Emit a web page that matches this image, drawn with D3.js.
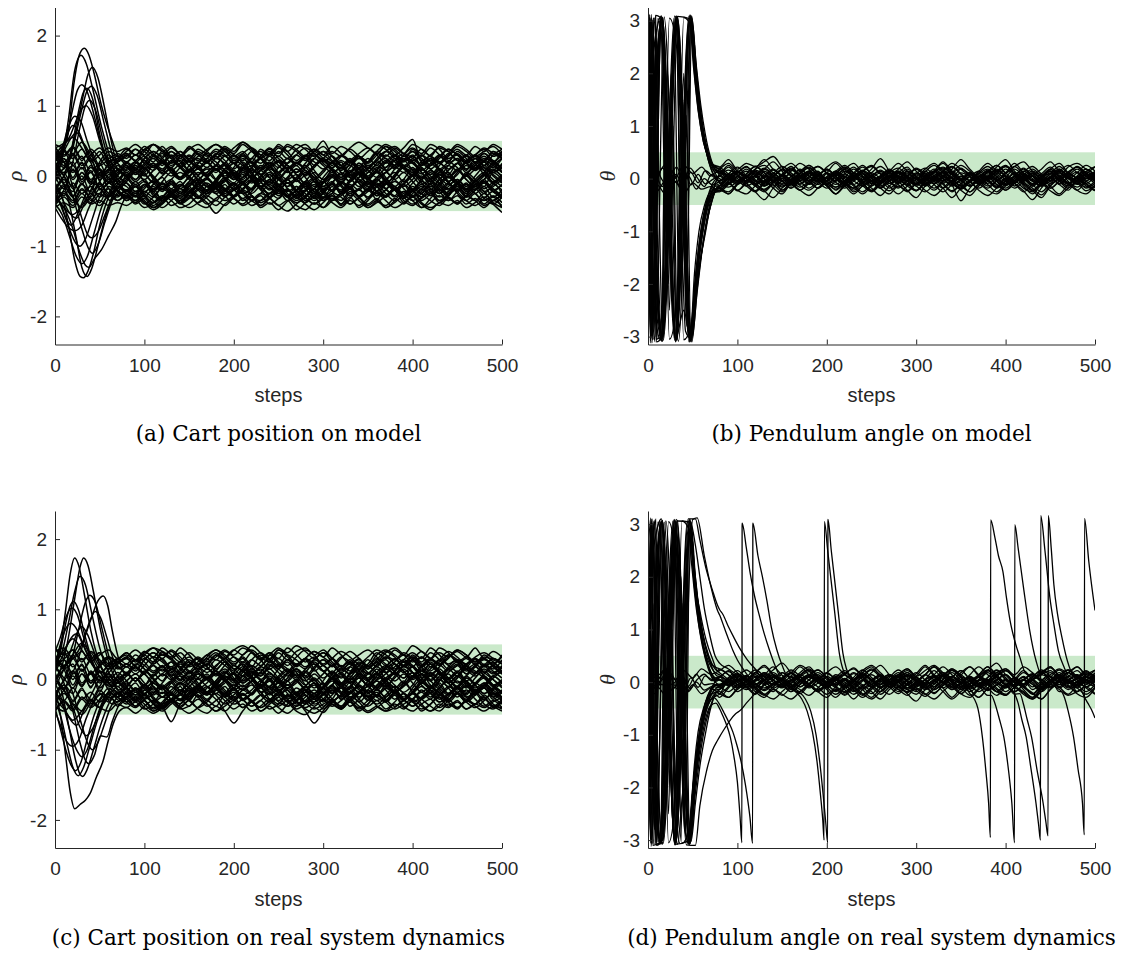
<!DOCTYPE html>
<head>
  <meta charset="utf-8">
  <style>
    body { margin: 0; background: #fff; }
    svg { display: block; }
  </style>
  <script src="https://cdn.jsdelivr.net/npm/d3@7"></script>
</head>
<body>
<svg id=fig width="1121" height="954"></svg>
<script>
// values are in hundredths (rho in units, theta in rad); heads are [step, value] key points,
// tails are sampled every 10 steps from step 80 to 500
const tailStart = 80, tailStep = 10
const xTicks = [0, 100, 200, 300, 400, 500]
const rhoTicks = [-2, -1, 0, 1, 2]
const thetaTicks = [-3, -2, -1, 0, 1, 2, 3]
const bandHalf = 0.5
const captions = ['(a) Cart position on model', '(b) Pendulum angle on model',
  '(c) Cart position on real system dynamics', '(d) Pendulum angle on real system dynamics']
const yLabels = ['ρ', 'θ', 'ρ', 'θ']

// (a) cart position, model
const rhoModelHeads = [
  [[0,20],[8,35],[15,62],[21,130],[28,175],[33,182],[38,172],[43,150],[52,100],[62,58],[70,30]],
  [[0,-10],[8,25],[15,80],[22,150],[29,172],[35,160],[42,125],[52,70],[62,25],[70,-5]],
  [[0,5],[10,10],[20,45],[30,105],[37,145],[42,155],[48,140],[55,100],[62,55],[70,20]],
  [[0,30],[10,40],[18,85],[25,122],[30,130],[36,120],[44,85],[52,45],[60,15],[70,-10]],
  [[0,-20],[10,0],[20,40],[30,95],[36,122],[41,128],[47,115],[55,75],[63,35],[70,10]],
  [[0,10],[10,5],[18,35],[26,90],[32,120],[36,125],[42,110],[50,60],[58,20],[66,-5],[70,-10]],
  [[0,-35],[10,-20],[20,20],[28,70],[34,100],[39,108],[45,95],[53,55],[62,15],[70,-5]],
  [[0,40],[8,45],[16,55],[24,80],[30,96],[35,100],[42,85],[50,50],[60,20],[70,5]],
  [[0,25],[8,40],[15,70],[22,85],[28,80],[36,50],[45,20],[55,5],[65,15],[70,20]],
  [[0,-5],[7,30],[14,60],[20,72],[27,62],[35,35],[45,5],[55,-15],[65,0],[70,10]],
  [[0,-10],[8,-30],[15,-70],[22,-120],[28,-143],[32,-145],[37,-135],[43,-110],[50,-70],[60,-30],[70,-10]],
  [[0,15],[8,-5],[16,-40],[24,-90],[30,-130],[36,-143],[41,-132],[48,-100],[56,-60],[64,-30],[70,-15]],
  [[0,-30],[10,-45],[20,-75],[28,-110],[34,-127],[38,-130],[44,-118],[52,-105],[60,-85],[68,-65],[75,-40]],
  [[0,-40],[8,-55],[16,-85],[24,-115],[30,-125],[36,-115],[44,-80],[52,-45],[62,-20],[70,0]],
  [[0,20],[10,0],[20,-30],[30,-75],[37,-102],[42,-110],[48,-98],[56,-65],[64,-35],[72,-20]],
  [[0,-25],[8,-45],[16,-75],[23,-95],[28,-100],[34,-90],[42,-60],[50,-30],[60,-10],[70,-20]],
  [[0,35],[10,20],[20,-15],[30,-60],[36,-82],[41,-88],[48,-80],[56,-55],[64,-30],[72,-15]],
  [[0,-45],[7,-60],[14,-72],[22,-78],[30,-70],[38,-45],[48,-25],[58,-30],[68,-20],[75,-10]],
  [[0,-15],[6,-40],[12,-60],[18,-70],[25,-55],[33,-30],[42,-10],[52,-20],[62,-35],[72,-25]],
  [[0,40],[10,30],[20,42],[30,25],[40,35],[50,15],[60,22],[70,10]],
  [[0,-40],[10,-25],[20,-38],[30,-20],[40,-30],[50,-12],[60,-25],[70,-30]],
  [[0,5],[10,-10],[20,8],[30,-5],[40,15],[50,0],[60,18],[70,25]],
  [[0,28],[10,12],[20,20],[30,-8],[40,5],[50,-15],[60,-5],[70,-20]],
  [[0,-28],[10,-12],[20,-22],[30,5],[40,-8],[50,10],[60,-2],[70,15]],
  [[0,45],[10,38],[20,25],[30,38],[40,20],[50,30],[60,40],[70,35]],
  [[0,-45],[10,-38],[20,-45],[30,-30],[40,-40],[50,-35],[60,-42],[70,-38]],
  [[0,15],[10,25],[20,5],[30,18],[40,-5],[50,8],[60,-10],[70,-5]],
  [[0,-15],[10,-28],[20,-10],[30,-25],[40,-15],[50,-30],[60,-18],[70,-35]],
  [[0,35],[10,15],[20,30],[30,10],[40,25],[50,-5],[60,5],[70,-15]],
  [[0,-35],[10,-15],[20,-30],[30,-12],[40,-22],[50,5],[60,-10],[70,5]],
  [[0,0],[10,20],[20,-5],[30,12],[40,-10],[50,20],[60,35],[70,28]],
  [[0,-8],[10,5],[20,-18],[30,0],[40,-25],[50,-10],[60,-28],[70,-12]],
  [[0,22],[10,35],[20,15],[30,28],[40,5],[50,18],[60,-5],[70,8]],
  [[0,-22],[10,-5],[20,-28],[30,-10],[40,-35],[50,-18],[60,-30],[70,-15]],
  [[0,12],[8,30],[16,50],[24,62],[32,45],[42,20],[52,0],[62,10],[70,22]],
  [[0,-12],[8,-32],[16,-52],[24,-60],[32,-42],[42,-15],[52,5],[62,-5],[70,-18]],
  [[0,38],[10,20],[20,32],[30,15],[40,30],[50,40],[60,25],[70,32]],
  [[0,-38],[10,-22],[20,-35],[30,-18],[40,-32],[50,-42],[60,-28],[70,-35]],
  [[0,0],[10,-18],[20,10],[30,-12],[40,8],[50,-20],[60,2],[70,-8]],
  [[0,8],[10,25],[20,-2],[30,20],[40,-8],[50,15],[60,30],[70,18]],
  [[0,30],[10,45],[20,55],[30,40],[40,22],[50,35],[60,15],[70,25]],
  [[0,-30],[10,-45],[20,-55],[30,-42],[40,-25],[50,-38],[60,-15],[70,-22]],
  [[0,-5],[10,12],[20,30],[30,48],[40,30],[50,10],[60,-8],[70,2]],
  [[0,5],[10,-12],[20,-30],[30,-45],[40,-28],[50,-8],[60,10],[70,0]],
  [[0,42],[10,28],[20,40],[30,22],[40,38],[50,25],[60,12],[70,20]],
  [[0,-42],[10,-30],[20,-42],[30,-25],[40,-38],[50,-25],[60,-10],[70,-22]],
  [[0,18],[10,0],[20,-15],[30,5],[40,-12],[50,2],[60,-18],[70,-28]],
  [[0,-18],[10,0],[20,15],[30,-5],[40,12],[50,-2],[60,18],[70,28]]
]
const rhoModelTails = [
  [15,5,12,-5,-18,-10,-25,-15,-30,-20,-8,5,18,10,25,35,28,40,30,18,25,8,-5,2,-12,-25,-18,-32,-22,-10,-20,-5,10,3,15,28,20,35,25,12,20,5,12],
  [-15,-25,-12,-28,-35,-22,-38,-30,-15,-25,-10,5,-5,10,20,12,28,15,5,15,-2,-15,-8,-22,-30,-40,-32,-45,-35,-20,-28,-12,-20,-5,8,0,15,25,18,30,22,35,28],
  [30,22,38,30,42,25,15,28,12,0,10,-5,-18,-8,-25,-15,-30,-42,-35,-48,-38,-25,-32,-15,-22,-8,5,-5,10,22,15,30,40,32,45,38,25,30,18,8,15,0,-10],
  [-20,-8,-22,-12,0,10,-2,15,25,18,32,22,10,20,5,-8,2,-12,-5,-20,-30,-18,-35,-25,-40,-30,-45,-35,-22,-30,-15,-25,-10,0,-12,5,15,8,22,30,20,35,25],
  [0,15,5,-10,-2,-18,-8,-25,-12,-3,10,0,12,28,20,38,30,45,35,22,30,15,22,8,-5,5,-10,-22,-15,-30,-20,-38,-28,-45,-32,-20,-28,-10,-18,-5,5,-8,2],
  [-22,-15,-30,-18,-35,-28,-40,-32,-20,-10,-18,-5,8,-2,12,25,15,5,18,30,22,35,25,12,20,0,10,-5,8,-8,-20,-12,-28,-18,-5,10,2,18,8,25,15,30,38],
  [10,20,12,28,18,35,25,42,32,20,28,15,3,12,-5,-15,-8,-20,-10,-25,-38,-30,-45,-35,-25,-12,-20,-5,5,-5,10,25,18,30,20,8,-2,10,-5,-15,-8,-22,-30],
  [18,10,25,35,28,40,30,20,32,22,10,18,2,-10,0,-15,-25,-18,-30,-20,-8,-18,-2,10,2,18,28,20,35,45,38,28,35,20,10,18,5,-8,0,-12,-5,-20,-12],
  [28,38,30,45,35,25,35,22,10,20,30,42,35,48,38,25,15,22,8,-5,5,-8,-20,-10,-25,-18,-30,-22,-10,-18,-2,12,5,20,10,-2,-12,-5,-18,-8,2,15,25],
  [-2,-15,-8,-22,-32,-25,-38,-45,-38,-28,-35,-20,-28,-12,-20,-5,5,-5,10,18,8,-2,-15,-8,-25,-15,-30,-20,-35,-42,-32,-40,-25,-15,-25,-10,0,-10,5,-5,-18,-10,-25],
  [-22,-12,-28,-38,-30,-42,-35,-25,-12,-20,-5,8,0,15,5,-8,2,-12,-22,-15,-30,-40,-32,-25,-10,-18,-2,12,5,20,30,22,38,28,40,30,18,25,10,20,8,-5,-15],
  [-25,-35,-28,-42,-32,-20,-28,-15,-5,-15,-25,-18,-32,-40,-30,-45,-38,-48,-36,-25,-15,-25,-10,0,-10,5,15,5,18,25,12,22,8,-5,5,-10,-20,-12,-28,-18,-32,-40,-30],
  [-30,-38,-25,-15,-22,-8,-15,0,10,2,15,28,18,32,40,30,22,35,25,38,45,35,42,28,15,25,10,0,12,-2,-15,-5,-20,-30,-22,-35,-28,-15,-25,-8,-15,5,-5],
  [12,2,15,25,15,30,20,8,15,-2,-12,-5,-20,-12,-28,-35,-25,-15,-28,-20,-10,-22,-35,-28,-42,-32,-20,-30,-15,-5,5,-8,2,15,25,18,32,22,10,18,28,20,35],
  [-10,-22,-15,-5,8,0,12,22,12,25,35,28,40,48,40,30,38,25,15,5,15,2,-10,-2,-15,-28,-18,-10,-22,-12,0,12,5,18,28,20,30,42,35,25,32,20,10],
  [-30,-22,-35,-45,-35,-28,-38,-22,-30,-15,-25,-35,-28,-20,-8,-18,-5,-15,-28,-38,-30,-18,-8,-20,-12,2,-8,5,15,8,22,12,0,-12,-5,-20,-10,-25,-35,-25,-40,-30,-45],
  [-5,8,0,15,5,20,12,-2,-12,-5,-18,-30,-20,-35,-28,-42,-32,-22,-10,-20,-8,5,-5,10,22,15,28,20,32,25,15,5,12,-2,8,-5,-18,-10,-22,-15,-5,8,0],
  [2,-8,5,15,8,20,30,25,38,30,20,10,18,5,12,25,35,28,42,35,25,32,18,8,-5,2,-10,-20,-12,-25,-35,-28,-18,-25,-10,-18,-30,-38,-28,-15,-25,-12,-2],
  [-35,-28,-40,-30,-18,-25,-12,-20,-32,-25,-15,-2,-10,5,-5,-18,-25,-15,-2,10,2,15,25,18,30,22,12,20,35,28,40,32,45,38,28,20,10,18,5,15,2,-10,-2],
  [20,12,25,35,25,15,22,8,18,32,25,38,30,18,5,12,-2,-15,-5,-20,-12,-28,-20,-35,-25,-40,-30,-18,-28,-10,-20,-32,-22,-38,-45,-38,-30,-40,-28,-35,-25,-38,-45],
  [-20,-28,-12,-22,-8,5,-5,10,0,-12,-22,-12,-28,-18,-5,8,20,12,25,15,28,38,30,42,32,20,28,12,22,8,-5,5,-8,-20,-12,-25,-15,-5,-15,0,12,5,18],
  [32,20,10,18,3,12,-3,8,20,12,25,18,5,-8,0,-15,-5,-18,-30,-22,-35,-28,-15,-22,-8,-18,-30,-40,-32,-45,-35,-22,-30,-18,-28,-15,-2,-12,3,-8,5,18,10],
  [-28,-15,-25,-35,-45,-35,-25,-32,-18,-25,-10,-20,-30,-22,-35,-25,-12,-20,-5,10,0,12,25,15,28,38,28,15,22,35,42,32,22,30,15,25,38,30,20,28,15,22,5],
  [5,18,28,20,35,28,15,5,15,0,10,-3,-15,-25,-18,-5,-12,2,12,2,-10,-2,-18,-10,5,-2,10,25,15,30,20,10,0,12,-3,8,-8,-20,-10,-25,-15,-30,-20],
  [40,30,38,45,35,42,30,20,28,38,45,35,25,32,18,28,40,32,45,38,28,35,50,32,42,35,25,35,45,38,30,40,52,22,30,40,35,45,38,28,35,42,30],
  [-42,-35,-45,-38,-28,-35,-45,-40,-30,-38,-53,-40,-32,-42,-35,-25,-32,-42,-50,-40,-32,-40,-30,-38,-45,-35,-42,-32,-25,-35,-45,-38,-30,-40,-48,-38,-42,-35,-45,-38,-30,-40,-52],
  [5,-5,8,18,10,22,12,0,-10,-2,-15,-8,5,-5,8,-3,-15,-25,-18,-30,-20,-8,-15,0,12,5,18,8,-2,5,15,25,18,5,-5,5,-8,2,15,8,20,12,25],
  [-25,-35,-22,-30,-15,-25,-35,-28,-40,-45,-35,-42,-30,-20,-28,-38,-30,-20,-30,-42,-48,-38,-45,-32,-40,-25,-35,-45,-38,-28,-18,-28,-15,-25,-35,-42,-32,-40,-28,-35,-45,-35,-42],
  [-5,5,-8,-18,-10,-22,-30,-22,-12,-20,-5,8,-2,12,25,18,32,42,35,45,38,28,35,22,12,20,5,-5,5,-10,-20,-12,0,10,2,15,28,38,30,42,35,45,38],
  [15,8,22,12,25,35,28,38,45,35,25,35,22,30,18,8,15,-2,8,-8,2,15,25,35,28,40,48,40,32,42,30,20,28,15,25,10,20,32,22,30,40,32,25],
  [20,30,22,12,20,8,-2,8,-5,-15,-8,-22,-12,-25,-18,-5,-15,-28,-20,-32,-22,-12,-25,-35,-28,-18,-8,-18,-5,5,-5,-15,-5,10,0,-12,-25,-18,-30,-20,-10,-22,-32],
  [-2,10,2,-10,-20,-12,-25,-15,-5,5,15,8,-5,2,-10,0,12,22,15,5,12,-2,8,20,28,20,10,-2,-12,-5,-18,-28,-20,-35,-25,-12,0,-8,-20,-12,0,10,-2],
  [0,-12,-5,-20,-10,-25,-15,-2,10,2,15,28,18,8,15,2,-10,-2,-18,-28,-20,-32,-25,-12,-22,-8,5,-5,8,20,10,22,35,25,15,28,38,30,18,25,12,2,-8],
  [-25,-15,-28,-38,-30,-18,-25,-10,-20,-32,-42,-30,-20,-10,-18,-2,10,2,-10,-2,12,25,15,5,12,-2,-15,-8,-22,-30,-20,-35,-42,-32,-25,-38,-28,-15,-25,-12,-22,-35,-25],
  [35,45,35,25,32,18,28,40,30,20,8,15,0,-12,-5,-20,-30,-22,-35,-28,-15,-25,-10,2,-8,5,18,10,25,35,25,12,20,5,-8,2,-10,-22,-12,-25,-35,-28,-38],
  [-8,5,-5,8,20,12,25,15,2,10,-5,-18,-10,-25,-35,-28,-40,-32,-20,-28,-12,-22,-8,5,-2,12,25,18,30,42,35,22,30,15,25,10,-2,8,-5,-15,-5,8,15],
  [25,38,28,15,22,8,18,30,22,35,45,38,28,35,20,10,18,5,-5,2,-12,-5,-20,-10,-25,-18,-5,-15,-28,-20,-8,-18,-30,-22,-10,2,-8,5,18,10,22,32,25],
  [-28,-40,-32,-45,-38,-25,-32,-18,-28,-40,-32,-22,-10,-18,-5,8,-2,12,25,18,28,20,10,18,5,-8,2,-12,-5,-18,-30,-22,-35,-45,-38,-28,-35,-22,-12,-20,-8,-18,-28],
  [5,-5,10,-2,-15,-8,-22,-12,0,12,5,18,30,22,35,25,12,20,8,-5,-15,-8,-22,-32,-25,-15,-28,-18,-5,-12,2,15,8,-5,-15,-5,8,18,28,20,32,22,12],
  [8,20,12,0,-12,-5,-18,-8,5,-2,-15,-28,-20,-32,-22,-10,-18,-5,8,20,12,25,35,28,15,22,10,-2,8,-8,-20,-10,2,-10,-22,-35,-25,-12,-20,-8,2,-10,-20],
  [38,30,42,32,20,28,12,22,35,28,38,30,18,25,12,2,12,-2,-15,-5,8,-5,5,18,10,22,32,40,30,18,28,15,25,38,28,42,35,22,30,18,8,18,30],
  [-35,-28,-38,-48,-40,-30,-38,-25,-15,-22,-8,-18,-30,-22,-35,-42,-32,-20,-28,-15,-25,-35,-25,-12,-20,-5,5,-5,-15,-28,-18,-30,-40,-30,-18,-25,-12,-22,-35,-42,-32,-22,-30],
  [15,5,18,30,22,10,-2,8,-8,-20,-12,-25,-15,-2,10,2,15,28,18,30,40,32,20,28,15,5,12,-2,-15,-8,-20,-30,-22,-12,-20,-5,5,-8,2,15,25,18,5],
  [-10,-22,-12,-25,-35,-25,-12,-22,-8,5,-5,10,22,15,2,-8,-20,-12,-25,-35,-28,-18,-30,-20,-8,-15,-2,10,20,12,25,15,2,10,-5,-15,-25,-18,-30,-20,-10,-22,-12],
  [30,22,35,45,38,28,35,22,12,20,30,40,32,45,35,25,32,20,10,18,28,38,30,20,8,15,2,-10,-2,12,22,32,25,15,22,10,-2,8,20,30,38,28,35],
  [-32,-25,-38,-45,-38,-28,-18,-28,-38,-30,-18,-28,-40,-32,-42,-35,-25,-32,-20,-30,-40,-48,-38,-28,-35,-22,-30,-42,-35,-45,-38,-28,-35,-25,-15,-22,-35,-28,-40,-32,-42,-35,-28],
  [-20,-30,-18,-8,-18,-5,5,-5,-18,-25,-15,-5,5,-8,2,15,8,-5,-15,-5,-18,-30,-22,-10,2,-8,5,15,8,-5,-15,-28,-20,-8,-18,-30,-22,-12,0,-10,-22,-15,-5],
  [20,30,18,8,18,5,-5,5,18,25,15,5,-5,8,-2,-15,-8,5,15,5,18,30,22,10,-2,8,-5,-15,-8,5,15,28,20,8,18,30,22,12,0,10,22,15,5]
]

// (b) pendulum angle, model
const thetaModelHeads = [
  [[0,50],[6,-305],[15,308],[31,-310],[47,311],[53,220],[58,140],[63,80],[68,45],[75,22]],
  [[0,-120],[14,-306],[30,309],[46,-310],[52,-230],[58,-160],[64,-105],[70,-50],[76,-22]],
  [[0,200],[4,312],[4.3,-312],[8,-200],[16,-304],[32,306],[48,-309],[54,-190],[60,-105],[66,-55],[73,-22]],
  [[0,-250],[7,305],[17,-307],[33,305],[49,-310],[55,-210],[60,-140],[66,-80],[72,-40],[78,-16]],
  [[0,310],[15,-306],[31,308],[47,-308],[52,-215],[58,-120],[64,-60],[70,-30]],
  [[0,-310],[16,305],[32,-306],[48,310],[53,210],[59,110],[65,55],[72,25]],
  [[0,100],[3,305],[5,-290],[14,300],[30,-307],[46,309],[51,230],[56,150],[61,85],[67,45],[74,20]],
  [[0,-30],[8,-310],[8.3,310],[16,302],[31,-305],[47,308],[52,200],[57,120],[62,70],[68,38],[75,18]],
  [[0,280],[9,-300],[18,307],[34,-309],[49,305],[55,190],[61,100],[67,50],[73,25]],
  [[0,-180],[5,300],[9,-305],[15,-300],[32,304],[48,-306],[53,-230],[59,-150],[65,-90],[71,-45],[78,-15]],
  [[0,150],[15,309],[31,-304],[40,-250],[48,-308],[54,-200],[60,-115],[66,-60],[73,-30]],
  [[0,-60],[16,-309],[33,307],[49,-305],[55,-215],[61,-130],[67,-65],[74,-25]],
  [[0,240],[2,312],[2.3,-312],[16,306],[31,-308],[46,304],[51,210],[56,130],[62,70],[69,35],[76,15]],
  [[0,-290],[6,120],[10,-150],[16,-308],[32,306],[47,-310],[53,-200],[59,-110],[65,-55],[72,-28]],
  [[0,60],[9,310],[9.3,-310],[16,-300],[33,308],[48,303],[54,200],[60,110],[66,55],[72,28]],
  [[0,-100],[5,-306],[10,200],[15,305],[31,-309],[48,307],[54,215],[59,140],[64,85],[70,40],[77,14]],
  [[0,220],[15,-302],[32,309],[47,-306],[52,-180],[57,-100],[63,-52],[70,-25]],
  [[0,-220],[15,304],[31,-306],[37,-120],[42,-290],[48,-304],[55,-185],[62,-95],[68,-45],[76,-14]],
  [[0,15],[8,-10],[16,20],[24,5],[32,22],[40,-5],[48,12],[56,-8],[64,15],[72,5]],
  [[0,-20],[8,5],[16,-15],[24,10],[32,-8],[40,18],[48,-12],[56,8],[64,-10],[72,-2]],
  [[0,5],[7,25],[15,0],[23,-18],[31,8],[39,-10],[47,20],[55,2],[63,-15],[71,8]],
  [[0,-8],[9,-25],[18,-5],[27,15],[36,-15],[45,5],[54,-20],[63,0],[72,-12]],
  [[0,30],[10,8],[20,28],[30,0],[40,25],[50,10],[60,22],[70,5]],
  [[0,-35],[10,-12],[20,-30],[30,-5],[40,-28],[50,-8],[60,-20],[70,-15]],
  [[0,-150],[6,250],[10,-80],[16,-306],[20,150],[25,-120],[33,305],[40,-100],[48,-306],[54,-190],[60,-100],[66,-50],[73,-20]],
  [[0,260],[7,-200],[12,250],[17,304],[24,-250],[28,100],[33,-306],[40,200],[44,-150],[49,308],[54,200],[59,115],[64,60],[70,25],[76,8]],
  [[0,-40],[5,302],[9,-120],[15,-305],[22,200],[27,-150],[32,-304],[38,180],[42,-60],[48,309],[53,205],[58,120],[64,60],[70,30],[76,12]],
  [[0,120],[4,-300],[8,180],[16,306],[21,-180],[26,140],[32,307],[37,-200],[43,120],[48,-306],[53,-200],[59,-115],[65,-55],[71,-25],[77,-10]],
  [[0,-305],[6,-100],[11,-304],[16,-250],[24,305],[32,250],[40,-306],[48,-280],[54,-170],[60,-90],[66,-40],[72,-10]],
  [[0,305],[6,90],[11,304],[16,260],[24,-305],[32,-240],[40,306],[48,290],[54,180],[60,95],[66,45],[72,12]],
  [[0,-80],[3,-306],[6,306],[10,-200],[15,-308],[19,100],[23,-200],[29,304],[35,-250],[39,150],[47,-307],[53,-190],[59,-100],[65,-48],[72,-15],[78,0]],
  [[0,80],[4,306],[8,-250],[14,306],[20,-100],[26,200],[32,-305],[38,50],[43,-280],[48,305],[54,190],[60,100],[66,45],[72,12],[78,-2]]
]
const thetaModelTails = [
  [18,7,14,-5,11,-11,4,18,7,-9,4,14,-4,11,22,9,-7,5,-14,0,11,-4,9,20,5,-9,2,-18,-4,9,18,4,-11,0,14,5,-5,9,18,2,-9,5,11],
  [-18,-7,-22,-9,5,-13,0,-22,-9,5,-5,9,-9,-20,-5,11,2,-14,-4,-18,-5,9,-2,14,0,-11,-25,-9,4,-9,5,-5,-22,-5,9,-4,-14,2,-11,-22,-5,-18,-9],
  [-22,-9,-23,-5,11,0,-14,5,20,5,-9,4,-11,-29,-14,2,14,0,-9,11,20,5,-5,9,-4,-18,-5,11,4,-11,0,18,5,-9,4,-14,-2,11,0,-11,5,18,5],
  [-18,-25,-9,5,-5,14,2,-11,0,18,5,-5,11,29,11,-2,9,-9,5,18,4,-11,2,-14,-2,14,23,9,-4,5,-9,2,18,5,-11,-23,-9,4,14,5,-5,9,-4],
  [-23,-9,4,-9,-25,-40,-18,-4,9,-5,-18,-4,11,0,-14,-2,14,25,9,-5,-18,-4,11,2,-11,-25,-11,4,-5,-22,-32,-18,-2,-14,0,11,-4,-18,-5,9,0,-14,-23],
  [22,36,18,29,23,32,42,22,5,-5,9,23,11,-4,9,22,5,-9,2,14,29,14,0,11,-5,5,18,36,18,4,14,-2,9,23,9,-5,5,18,4,-9,2,14,23],
  [14,-2,11,23,5,-9,4,18,29,14,0,-11,2,14,-4,11,25,9,-5,5,-9,4,18,5,-9,2,11,-4,-14,0,11,25,11,-4,5,-11,2,18,29,11,0,-9,4],
  [11,25,9,-5,5,18,4,-9,4,14,25,11,-4,9,-11,0,11,-5,-18,-4,11,0,-14,-2,14,32,14,0,11,-5,4,-11,2,18,5,-9,4,14,0,11,22,5,-5],
  [18,5,-5,9,23,11,-4,5,-11,4,14,0,-14,-29,-11,4,14,2,-11,-23,-9,5,18,4,-9,5,22,9,-5,-18,-5,9,23,11,-2,9,-9,2,18,4,-11,0,14],
  [-18,-4,11,0,-11,4,18,5,-9,-22,-5,9,0,14,4,-11,-25,-11,2,-9,5,18,4,-11,-2,-18,-36,-18,-4,9,-2,-18,-5,11,0,-14,2,14,-4,-14,4,-5,-18],
  [-22,-29,-11,4,-9,5,-5,-22,-5,9,22,5,-5,9,-5,-18,-2,11,0,-14,-29,-14,2,-9,5,18,-11,-42,-18,-4,-2,14,5,-9,-25,-11,4,9,-5,-18,-2,9,0],
  [-25,-11,4,-9,-23,-5,9,-4,-18,-4,11,0,-11,4,18,4,-9,-22,-5,5,-5,-22,-36,-14,0,11,0,-14,-4,11,23,9,-5,4,-14,-29,-11,2,-9,5,18,4,-9],
  [9,22,5,-9,2,18,32,14,-4,5,-9,4,18,5,-9,-18,-4,11,23,9,-5,5,-11,0,14,29,11,-4,9,-9,4,22,36,14,0,11,-4,-18,-4,9,23,11,-2],
  [-14,4,14,0,-14,-25,-9,5,-5,-22,-9,5,18,4,-9,5,-9,-23,-9,4,14,0,-11,4,18,5,-5,-22,-32,-14,0,11,-4,-18,-5,9,0,-14,-29,-11,2,-9,-22],
  [22,9,-4,9,23,11,-2,-14,-4,11,25,11,0,-11,2,18,5,-9,4,14,4,-9,-23,-9,5,-4,11,25,14,0,-14,-4,11,29,11,-2,9,22,5,-9,2,18,5],
  [14,0,-11,4,18,36,18,4,-9,4,14,23,9,-5,5,-11,2,18,38,14,0,14,4,-11,2,14,0,-14,-2,14,29,14,0,9,-5,-22,-5,9,23,9,-4,9,22],
  [-18,-29,-11,2,14,0,-11,-25,-9,5,-5,-18,-4,11,0,-14,-29,-14,0,11,2,-14,-23,-5,9,0,-14,-2,11,0,-11,-25,-9,4,-9,-22,-36,-14,0,11,0,-11,-23],
  [-14,2,14,4,-9,-23,-36,-18,-2,9,-4,-18,-5,9,22,5,-5,-18,-32,-14,0,11,0,-14,-4,11,0,-9,-25,-11,4,-5,-18,-4,9,0,-14,-4,11,-5,-22,-29,-11],
  [-5,9,22,5,-9,2,11,-4,-14,0,14,4,-9,5,18,29,11,-4,5,-9,0,14,4,-11,2,14,29,18,4,-9,-2,14,25,9,-5,5,18,32,14,0,11,25,14],
  [5,-9,4,14,-2,-14,-4,9,23,5,-5,-18,-4,9,-5,-22,-9,4,14,0,-11,-25,-9,5,14,0,-11,-2,11,-4,-18,-5,5,-9,-23,-40,-18,0,11,0,-9,4,-5],
  [0,-11,4,18,5,-5,9,23,11,-4,9,-5,-18,-4,14,4,-9,-23,-9,5,18,32,14,0,-9,5,14,0,-14,-2,11,0,-11,4,18,5,-9,4,14,25,11,0,9],
  [-5,9,0,-14,-25,-9,4,-5,-18,0,11,-2,-14,-29,-11,2,9,-5,-18,-4,9,-5,-22,-5,5,-9,-23,-11,4,14,0,-14,-4,11,0,-11,-25,-9,4,-9,-22,-5,5],
  [18,29,14,4,18,25,11,0,14,29,18,5,22,32,18,4,14,23,9,-4,11,22,5,18,29,14,2,18,9,-4,14,25,11,23,32,14,4,18,5,22,29,18,9],
  [-23,-9,-22,-29,-14,-4,-18,-29,-11,-22,-32,-18,-5,-22,-11,-25,-14,-4,-18,-29,-14,-23,-9,-22,-32,-18,-5,-14,-25,-11,-22,-29,-14,-4,-18,-25,-11,-23,-32,-18,-9,-23,-14],
  [7,-5,11,22,9,-7,4,16,5,-11,2,13,-5,-16,-4,9,22,9,-4,11,0,-13,-2,13,25,11,-4,5,-11,2,16,4,-9,5,20,5,-9,4,-11,2,13,0,11],
  [-9,4,14,0,-14,-22,-7,5,16,4,-11,-2,11,0,-13,-29,-13,0,11,-4,-16,-4,9,-5,-18,-5,9,20,5,-9,4,-11,-22,-9,5,-4,-13,2,16,5,-5,-16,-5],
  [14,4,-7,5,16,7,-5,-16,-4,9,20,7,-4,11,-5,-18,-7,5,16,4,-7,5,20,9,-4,7,-9,-20,-7,4,14,4,-11,0,13,23,9,-4,7,-9,0,13,4],
  [-13,0,13,4,-11,-20,-7,5,-4,-16,-5,7,16,4,-7,5,-13,-25,-11,2,13,2,-9,4,14,4,-7,-18,-7,5,-4,-16,-4,11,2,-11,4,14,-2,-14,-4,9,-2],
  [5,16,7,-4,7,20,7,-5,4,16,5,-7,4,14,25,11,-2,7,-7,4,14,4,-9,2,13,22,9,-2,9,-5,4,16,5,-7,4,14,5,-9,2,13,22,9,-2],
  [-7,-16,-5,5,-4,-14,-4,7,-2,-13,-22,-9,2,-7,-18,-5,4,-5,-16,-4,5,-4,-14,-25,-11,0,-9,-20,-7,4,-5,-16,-5,4,-7,-18,-31,-13,0,-7,-16,-5,4],
  [11,2,-9,2,13,4,-5,7,18,5,-4,7,-5,-16,-5,5,16,5,-5,4,13,2,-9,0,11,20,7,-4,7,-7,2,13,23,9,-4,5,-7,0,11,2,-7,4,13],
  [-4,7,-4,-14,-5,5,16,5,-7,2,11,0,-11,-2,9,-4,-14,-5,5,16,5,-5,4,-9,-22,-7,4,-4,-14,-4,7,-2,-13,-4,7,18,5,-5,4,-9,2,13,2]
]

// (c) cart position, real system
const rhoRealHeads = [
  [[0,15],[6,45],[12,100],[17,150],[22,173],[27,160],[33,120],[40,70],[48,30],[56,5],[65,-10],[72,0]],
  [[0,-5],[8,20],[15,60],[22,115],[28,160],[32,173],[37,162],[43,125],[51,70],[60,25],[68,0],[75,-10]],
  [[0,25],[8,40],[15,80],[22,125],[28,147],[34,135],[41,95],[50,45],[60,10],[70,-5]],
  [[0,-20],[10,0],[20,35],[28,80],[34,110],[39,120],[45,110],[53,70],[61,30],[70,5]],
  [[0,30],[10,20],[20,30],[30,50],[40,85],[48,112],[54,119],[59,105],[64,70],[70,35],[75,15]],
  [[0,10],[6,40],[12,80],[17,105],[21,111],[26,100],[33,65],[42,25],[52,0],[62,-10],[72,5]],
  [[0,40],[6,60],[12,88],[19,102],[25,92],[32,60],[40,30],[50,10],[60,20],[70,25]],
  [[0,-30],[10,-15],[20,10],[30,45],[38,80],[45,97],[51,88],[58,60],[65,30],[72,15]],
  [[0,20],[6,50],[12,72],[18,80],[25,70],[33,45],[42,20],[52,10],[62,25],[72,30]],
  [[0,-10],[10,15],[20,50],[26,70],[30,75],[36,65],[45,35],[55,10],[65,-5],[72,-15]],
  [[0,-15],[6,-50],[12,-110],[17,-160],[22,-184],[28,-178],[34,-172],[39,-163],[46,-140],[54,-115],[60,-85],[66,-60],[72,-45]],
  [[0,-30],[7,-55],[14,-95],[20,-125],[26,-137],[32,-125],[39,-95],[47,-60],[56,-30],[65,-15],[72,-20]],
  [[0,10],[8,-20],[16,-70],[23,-115],[28,-135],[31,-138],[36,-128],[43,-100],[51,-65],[60,-35],[68,-20],[75,-25]],
  [[0,-40],[6,-70],[12,-100],[18,-122],[23,-130],[29,-118],[36,-85],[44,-50],[53,-25],[62,-20],[72,-30]],
  [[0,20],[10,-5],[20,-45],[28,-90],[34,-115],[38,-120],[44,-108],[51,-80],[58,-82],[64,-60],[72,-35]],
  [[0,-5],[8,-30],[16,-70],[24,-100],[30,-110],[36,-100],[43,-70],[52,-35],[61,-15],[70,-5]],
  [[0,35],[10,15],[20,-20],[30,-65],[37,-92],[42,-100],[48,-90],[55,-65],[62,-40],[70,-25]],
  [[0,-45],[6,-65],[13,-88],[20,-95],[27,-85],[35,-55],[44,-30],[54,-20],[64,-35],[72,-30]],
  [[0,0],[10,-15],[20,-40],[28,-68],[35,-80],[42,-70],[50,-45],[60,-25],[70,-10]],
  [[0,45],[10,35],[20,42],[30,28],[40,38],[50,20],[60,30],[70,15]],
  [[0,-45],[10,-30],[20,-42],[30,-25],[40,-35],[50,-15],[60,-28],[70,-20]],
  [[0,8],[10,-12],[20,5],[30,-10],[40,12],[50,-2],[60,15],[70,22]],
  [[0,30],[10,15],[20,22],[30,-5],[40,8],[50,-12],[60,0],[70,-15]],
  [[0,-25],[10,-8],[20,-20],[30,8],[40,-5],[50,12],[60,2],[70,18]],
  [[0,40],[10,45],[20,30],[30,40],[40,25],[50,35],[60,42],[70,30]],
  [[0,-38],[10,-45],[20,-35],[30,-45],[40,-30],[50,-40],[60,-45],[70,-35]],
  [[0,18],[10,28],[20,8],[30,20],[40,-2],[50,10],[60,-8],[70,0]],
  [[0,-18],[10,-30],[20,-12],[30,-28],[40,-18],[50,-32],[60,-20],[70,-38]],
  [[0,-2],[10,18],[20,-8],[30,15],[40,-12],[50,22],[60,32],[70,25]],
  [[0,32],[10,20],[20,35],[30,12],[40,28],[50,-2],[60,8],[70,-10]],
  [[0,25],[10,38],[20,18],[30,30],[40,8],[50,20],[60,-2],[70,10]],
  [[0,-25],[10,-8],[20,-30],[30,-12],[40,-38],[50,-20],[60,-32],[70,-18]],
  [[0,15],[8,32],[16,55],[24,65],[32,48],[42,22],[52,2],[62,12],[70,25]],
  [[0,-15],[8,-35],[16,-55],[24,-65],[32,-45],[42,-18],[52,2],[62,-8],[70,-20]],
  [[0,35],[10,18],[20,30],[30,12],[40,28],[50,38],[60,22],[70,30]],
  [[0,-35],[10,-20],[20,-32],[30,-15],[40,-30],[50,-40],[60,-25],[70,-32]],
  [[0,2],[10,-15],[20,12],[30,-10],[40,10],[50,-18],[60,5],[70,-5]],
  [[0,10],[10,28],[20,0],[30,22],[40,-5],[50,18],[60,32],[70,20]],
  [[0,28],[10,42],[20,58],[30,42],[40,25],[50,38],[60,18],[70,28]],
  [[0,-28],[10,-42],[20,-58],[30,-45],[40,-28],[50,-40],[60,-18],[70,-25]],
  [[0,-2],[10,15],[20,35],[30,52],[40,35],[50,12],[60,-5],[70,5]],
  [[0,2],[10,-15],[20,-35],[30,-50],[40,-32],[50,-10],[60,8],[70,-2]],
  [[0,45],[10,30],[20,42],[30,25],[40,40],[50,28],[60,15],[70,22]],
  [[0,-45],[10,-32],[20,-45],[30,-28],[40,-40],[50,-28],[60,-12],[70,-25]],
  [[0,20],[10,2],[20,-12],[30,8],[40,-10],[50,5],[60,-15],[70,-25]],
  [[0,-20],[10,-2],[20,12],[30,-8],[40,10],[50,-5],[60,15],[70,25]]
]
const rhoRealTails = [
  [10,-2,8,-10,-25,-18,-30,-22,-10,-20,-5,8,20,12,28,38,30,42,35,22,30,15,2,10,-5,-18,-10,-25,-35,-25,-15,-28,-18,-5,8,0,15,25,18,30,20,10,18],
  [-20,-30,-22,-35,-42,-30,-40,-28,-18,-28,-15,-2,-12,5,15,5,20,10,-2,8,-8,-20,-12,-28,-38,-30,-42,-35,-22,-30,-18,-5,-15,0,10,2,18,28,20,12,2,-10,-20],
  [5,18,10,25,35,28,18,25,10,2,12,-2,-15,-8,-20,-12,-28,-38,-30,-42,-35,-22,-30,-15,-25,-10,2,-8,10,20,12,28,38,30,45,35,22,28,15,5,12,0,-12],
  [-8,2,-12,-2,8,18,8,22,30,20,35,25,12,22,5,-8,0,-15,-8,-22,-32,-20,-38,-28,-42,-32,-45,-35,-22,-30,-18,-28,-12,0,-10,5,15,5,20,28,18,30,22],
  [5,18,8,-5,-12,-22,-10,-28,-15,-5,8,-2,10,25,18,35,28,42,32,20,28,12,20,5,-8,2,-12,-25,-18,-32,-22,-40,-30,-45,-35,-22,-30,-12,-20,-8,2,-10,-2],
  [-10,-22,-12,-28,-38,-60,-35,-25,-12,-20,-8,5,-5,10,20,12,25,15,5,15,0,-12,-5,-20,-12,-28,-18,-5,-15,-2,10,2,18,8,22,12,0,10,-5,-15,-8,-20,-30],
  [30,20,35,25,40,32,45,35,22,30,15,25,8,18,2,-10,-2,-18,-8,-22,-35,-28,-42,-32,-22,-10,-18,-2,8,-2,12,25,18,32,22,10,2,12,-2,-12,-5,-18,-25],
  [22,12,28,38,30,42,32,20,30,18,8,15,2,-10,-2,-18,-28,-20,-32,-22,-10,-20,-2,12,2,18,28,20,35,42,35,25,32,18,8,15,2,-10,-2,-15,-8,-22,-15],
  [38,28,40,32,45,35,25,32,20,10,20,30,42,35,48,38,28,18,25,10,-2,8,-5,-18,-10,-25,-18,-30,-22,-12,-20,-5,10,2,18,8,-5,-15,-5,-18,-10,2,12],
  [-5,-18,-10,-25,-35,-28,-40,-48,-40,-30,-38,-22,-30,-15,-22,-5,5,-5,8,15,5,-5,-18,-10,-28,-18,-32,-22,-38,-45,-35,-42,-28,-18,-28,-12,-2,-12,2,-8,-20,-12,-28],
  [-40,-48,-38,-30,-40,-32,-22,-15,-25,-12,-2,10,0,15,5,-10,2,-15,-25,-18,-32,-42,-35,-28,-12,-20,-5,10,2,18,28,20,35,25,38,28,15,22,8,18,5,-8,-18],
  [-28,-38,-30,-45,-35,-22,-30,-18,-8,-18,-28,-45,-62,-45,-32,-45,-38,-48,-35,-25,-15,-25,-10,2,-8,8,18,8,20,28,15,25,10,-5,5,-12,-22,-12,-30,-20,-35,-42,-32],
  [-32,-40,-28,-18,-25,-10,-18,2,12,2,18,30,20,35,42,32,25,38,28,40,45,35,42,30,18,28,12,2,15,0,-12,-2,-18,-28,-20,-32,-25,-12,-22,-5,-12,5,-5],
  [-18,-5,-20,-10,-25,-15,-5,-18,-8,5,-8,-20,-12,-28,-38,-30,-20,-32,-38,-32,-45,-62,-45,-32,-40,-28,-18,-28,-12,-2,8,-5,5,18,28,20,35,25,12,20,30,22,35],
  [-25,-12,-20,-5,8,0,12,25,15,28,38,30,42,48,40,30,38,25,15,5,12,0,-12,-2,-18,-30,-20,-10,-22,-12,2,15,5,20,30,22,32,42,35,25,30,18,8],
  [-15,-28,-20,-35,-45,-35,-28,-38,-22,-30,-15,-25,-35,-28,-20,-8,-18,-5,-15,-30,-40,-32,-20,-8,-20,-12,2,-8,5,15,8,20,10,-2,-12,-5,-20,-10,-25,-35,-25,-40,-30],
  [-12,2,-8,8,-2,15,5,-8,-18,-10,-22,-35,-25,-40,-30,-45,-35,-25,-12,-22,-10,2,-8,8,20,12,25,18,30,22,12,2,10,-5,5,-8,-20,-12,-25,-18,-8,5,-5],
  [-20,-32,-22,-12,-20,-5,5,0,12,22,12,2,10,-2,5,18,28,20,35,28,18,25,12,2,-10,-2,-15,-25,-15,-28,-38,-30,-20,-28,-12,-20,-32,-40,-30,-18,-28,-15,-5],
  [-22,-15,-28,-20,-10,-18,-5,-12,-25,-18,-8,5,-2,12,2,-10,-20,-10,2,15,5,18,28,20,32,25,15,22,38,30,42,35,48,40,30,22,12,20,8,18,5,-8,0],
  [22,15,28,38,28,18,25,10,20,35,28,40,32,20,8,15,0,-12,-2,-18,-10,-25,-18,-32,-22,-38,-28,-15,-25,-8,-18,-30,-20,-35,-45,-38,-28,-40,-30,-35,-22,-35,-42],
  [-12,-22,-8,-18,-5,8,-2,12,2,-10,-20,-10,-25,-15,-2,10,22,15,28,18,30,40,32,45,35,22,30,15,25,10,-2,8,-5,-18,-10,-22,-12,-2,-12,2,15,8,20],
  [30,18,8,20,5,15,0,10,22,15,28,20,8,-5,2,-12,-2,-15,-28,-20,-32,-25,-12,-20,-5,-15,-28,-38,-30,-42,-32,-20,-28,-15,-25,-12,0,-10,5,-5,8,20,12],
  [-25,-12,-22,-32,-42,-32,-22,-30,-15,-22,-8,-18,-28,-20,-32,-22,-10,-18,-2,12,2,15,28,18,30,40,30,18,25,38,45,35,25,32,18,28,40,32,22,30,18,25,8],
  [8,20,30,22,38,30,18,8,18,2,12,0,-12,-22,-15,-2,-10,5,15,5,-8,0,-15,-8,8,0,12,28,18,32,22,12,2,15,0,10,-5,-18,-8,-22,-12,-28,-18],
  [38,28,35,45,35,40,28,18,25,35,42,32,22,30,15,25,38,30,45,35,25,32,20,30,40,32,22,32,42,35,28,38,30,20,28,38,32,42,35,25,32,28,22],
  [-40,-32,-42,-35,-25,-32,-42,-38,-28,-35,-45,-38,-30,-40,-32,-22,-30,-40,-48,-38,-30,-38,-28,-35,-42,-32,-40,-30,-22,-32,-42,-35,-28,-38,-45,-35,-40,-32,-42,-35,-28,-38,-45],
  [8,-2,10,20,12,25,15,2,-8,0,-12,-5,8,-2,10,0,-12,-22,-15,-28,-18,-5,-12,2,15,8,20,10,0,8,18,28,20,8,-2,8,-5,5,18,10,22,15,28],
  [-28,-38,-25,-32,-18,-28,-38,-30,-42,-48,-38,-45,-32,-22,-30,-40,-32,-22,-32,-45,-50,-40,-47,-35,-42,-28,-38,-47,-40,-30,-20,-30,-18,-28,-38,-45,-35,-42,-30,-38,-45,-38,-40],
  [18,28,20,10,18,5,-5,5,-8,-18,-10,-25,-15,-28,-20,-8,-18,-30,-22,-35,-25,-15,-28,-38,-30,-20,-10,-20,-8,2,-8,-18,-8,8,-2,-15,-28,-20,-32,-22,-12,-25,-35],
  [-2,8,-5,-15,-8,-20,-28,-20,-10,-18,-2,10,0,15,28,20,35,45,38,48,40,30,38,25,15,22,8,-2,8,-8,-18,-10,2,12,5,18,30,40,32,45,30,40,32],
  [-2,-15,-8,-22,-12,-28,-18,-5,8,0,12,25,15,5,12,-2,-12,-5,-20,-30,-22,-35,-28,-15,-25,-10,2,-8,5,18,8,20,32,22,12,25,35,28,15,22,10,0,-10],
  [-28,-18,-30,-40,-32,-20,-28,-12,-22,-35,-45,-32,-22,-12,-20,-5,8,0,-12,-5,10,22,12,2,10,-5,-18,-10,-25,-32,-22,-38,-45,-35,-28,-40,-30,-18,-28,-15,-25,-38,-28],
  [32,42,32,22,30,15,25,38,28,18,5,12,-2,-15,-8,-22,-32,-25,-38,-30,-18,-28,-12,0,-10,2,15,8,22,32,22,10,18,2,-10,0,-12,-25,-15,-28,-38,-30,-40],
  [-10,2,-8,5,18,10,22,12,0,8,-8,-20,-12,-28,-38,-30,-42,-35,-22,-30,-15,-25,-10,2,-5,10,22,15,28,40,32,20,28,12,22,8,-5,5,-8,-18,-8,5,12],
  [22,35,25,12,20,5,15,28,20,32,42,35,25,32,18,8,15,2,-8,0,-15,-8,-22,-12,-28,-20,-8,-18,-30,-22,-10,-20,-32,-25,-12,0,-10,2,15,8,20,30,22],
  [-25,-38,-30,-42,-35,-22,-30,-15,-25,-38,-30,-20,-8,-15,-2,10,0,15,28,20,30,22,12,20,8,-5,5,-10,-2,-15,-28,-20,-32,-42,-35,-25,-32,-20,-10,-18,-5,-15,-25],
  [8,-2,12,0,-12,-5,-20,-10,2,15,8,20,32,25,38,28,15,22,10,-2,-12,-5,-20,-30,-22,-12,-25,-15,-2,-10,5,18,10,-2,-12,-2,10,20,30,22,35,25,15],
  [10,22,15,2,-10,-2,-15,-5,8,0,-12,-25,-18,-30,-20,-8,-15,-2,10,22,15,28,38,30,18,25,12,0,10,-5,-18,-8,5,-8,-20,-32,-22,-10,-18,-5,5,-8,-18],
  [35,28,40,30,18,25,10,20,32,25,35,28,15,22,10,0,10,-5,-12,-2,10,-2,8,20,12,25,35,42,32,20,30,18,28,40,30,45,38,25,32,20,10,20,32],
  [-32,-25,-35,-45,-38,-28,-35,-22,-12,-20,-5,-15,-28,-20,-32,-40,-30,-18,-25,-12,-22,-32,-22,-10,-18,-2,8,-2,-12,-25,-15,-28,-38,-28,-15,-22,-10,-20,-32,-40,-30,-20,-28],
  [18,8,20,32,25,12,0,10,-5,-18,-10,-22,-12,0,12,5,18,30,20,32,42,35,22,30,18,8,15,0,-12,-5,-18,-28,-20,-10,-18,-2,8,-5,5,18,28,20,8],
  [-12,-25,-15,-28,-38,-28,-15,-25,-10,2,-8,8,20,12,0,-10,-22,-15,-28,-38,-30,-20,-32,-22,-10,-18,-5,8,18,10,22,12,0,8,-8,-18,-28,-20,-32,-22,-12,-25,-15],
  [32,25,38,45,40,30,38,25,15,22,32,42,35,45,38,28,35,22,12,20,30,40,32,22,10,18,5,-8,0,15,25,35,28,18,25,12,0,10,22,32,38,30,25],
  [-35,-28,-40,-48,-40,-30,-20,-30,-40,-32,-20,-30,-42,-35,-45,-38,-28,-35,-22,-32,-42,-48,-40,-30,-38,-25,-32,-45,-38,-45,-40,-30,-38,-28,-18,-25,-38,-30,-42,-35,-40,-32,-25],
  [-18,-28,-15,-5,-15,-2,8,-2,-15,-22,-12,-2,8,-5,5,18,10,-2,-12,-2,-15,-28,-20,-8,5,-5,8,18,10,-2,-12,-25,-18,-5,-15,-28,-20,-10,2,-8,-20,-12,-2],
  [18,28,15,5,15,2,-8,2,15,22,12,2,-8,5,-5,-18,-10,2,12,2,15,28,20,8,-5,5,-8,-18,-10,2,12,25,18,5,15,28,20,10,-2,8,20,12,2]
]

// (d) pendulum angle, real system
const thetaRealHeads = [
  [[0,-40],[7,-308],[16,305],[30,-309],[45,310],[53,310],[58,270],[65,215],[72,175],[78,145]],
  [[0,120],[14,-306],[29,308],[44,-306],[50,-200],[56,-120],[62,-70],[68,-35],[75,-15]],
  [[0,-200],[5,310],[5.3,-310],[15,-302],[30,307],[46,-308],[52,-190],[58,-110],[64,-60],[71,-32]],
  [[0,260],[9,-305],[20,306],[35,-306],[50,309],[55,312],[63,240],[72,170],[78,135]],
  [[0,305],[13,-307],[28,306],[43,-309],[53,-310],[58,-235],[66,-165],[72,-130],[78,-110]],
  [[0,-305],[16,307],[31,-305],[48,300],[52,200],[58,136],[65,80],[72,45],[78,22]],
  [[0,80],[4,310],[7,-280],[15,305],[30,-306],[44,305],[49,220],[54,140],[60,80],[67,42],[74,20]],
  [[0,-20],[9,310],[9.3,-310],[16,-300],[32,309],[47,-306],[51,-215],[56,-130],[62,-72],[69,-30],[76,-12]],
  [[0,250],[10,-303],[18,304],[33,-308],[40,-200],[47,-305],[53,-210],[59,-130],[65,-75],[71,-40],[77,-20]],
  [[0,-150],[6,300],[11,-290],[17,-306],[33,307],[40,100],[47,309],[52,215],[57,135],[63,75],[70,35],[77,12]],
  [[0,180],[15,310],[31,-305],[47,306],[53,260],[58,200],[63,140],[69,90],[75,50]],
  [[0,-80],[16,-308],[32,305],[48,-303],[53,-230],[58,-160],[64,-100],[70,-50],[76,-24]],
  [[0,230],[3,312],[3.3,-312],[16,307],[31,-309],[46,308],[50,240],[55,160],[61,95],[68,50],[75,25]],
  [[0,-280],[7,150],[11,-160],[16,-306],[31,304],[46,-309],[51,-220],[57,-140],[63,-80],[70,-45],[76,-40]],
  [[0,40],[8,308],[8.3,-308],[16,-300],[33,306],[48,304],[53,200],[59,115],[65,62],[72,32]],
  [[0,-120],[5,-306],[10,220],[15,304],[30,-308],[45,-302],[50,-210],[55,-130],[61,-72],[67,-40],[74,-30]],
  [[0,200],[14,-303],[30,309],[46,-306],[51,-175],[56,-95],[62,-50],[69,-25]],
  [[0,-230],[15,305],[30,-305],[36,-110],[41,-280],[47,-307],[53,-190],[59,-105],[65,-55],[72,-28]],
  [[0,-12],[8,10],[16,-5],[24,18],[32,0],[40,-15],[48,8],[56,-10],[64,12],[72,5]],
  [[0,22],[9,0],[18,20],[27,-5],[36,12],[45,-8],[54,15],[63,-5],[72,-3]],
  [[0,-5],[7,-22],[15,3],[23,15],[31,-8],[39,10],[47,-12],[55,5],[63,15],[71,3]],
  [[0,10],[9,-8],[18,12],[27,-15],[36,5],[45,-18],[54,0],[63,-15],[72,-8]],
  [[0,28],[10,12],[20,25],[30,5],[40,22],[50,8],[60,25],[70,15]],
  [[0,-30],[10,-8],[20,-25],[30,-10],[40,-28],[50,-5],[60,-22],[70,-12]],
  [[0,-150],[6,250],[10,-80],[15,-306],[20,150],[25,-120],[31,305],[37,-100],[45,-306],[52,-190],[58,-100],[64,-50],[71,-15],[77,-5]],
  [[0,260],[7,-200],[12,250],[16,304],[23,-250],[27,100],[31,-306],[37,200],[41,-150],[46,308],[52,200],[58,110],[64,55],[70,20],[76,5]],
  [[0,-40],[5,302],[9,-120],[14,-305],[21,200],[26,-150],[30,-304],[36,180],[40,-60],[46,309],[51,205],[57,120],[63,55],[70,20],[76,8]],
  [[0,120],[4,-300],[8,180],[15,306],[20,-180],[25,140],[30,307],[35,-200],[41,120],[47,-306],[52,-200],[58,-110],[64,-50],[70,-20],[76,-6]],
  [[0,-305],[6,-100],[11,-304],[15,-250],[23,305],[30,250],[38,-306],[46,-280],[52,-170],[58,-90],[64,-40],[71,-10]],
  [[0,305],[6,90],[11,304],[15,260],[23,-305],[30,-240],[38,306],[46,290],[52,180],[58,95],[64,45],[71,10]],
  [[0,-80],[3,-306],[6,306],[10,-200],[14,-308],[18,100],[22,-200],[28,304],[34,-250],[38,150],[45,-307],[51,-190],[57,-100],[63,-48],[70,-15],[77,-4]],
  [[0,80],[4,306],[8,-250],[13,306],[19,-100],[25,200],[31,-305],[37,50],[42,-280],[47,305],[53,190],[59,100],[65,45],[71,12],[77,2]]
]
const thetaRealTails = [
  [22,14,9,7,4,11,4,-9,2,13,23,11,-2,9,-9,4,16,5,-9,-2,11,22,9,-5,4,-11,0,13,29,11,-4,9,-5,-18,-4,11,20,5,-5,4,13,0,-9],
  [-14,-2,-18,-5,9,-4,-18,-5,-11,-22,-5,9,-4,11,23,16,5,-9,4,14,0,-11,2,14,29,14,0,-11,-2,11,0,-14,-25,-9,4,14,0,-9,5,18,4,-9,2],
  [-23,-9,5,-5,-22,-5,9,0,-14,-4,11,0,-14,-25,-11,4,14,2,-11,4,18,4,-9,5,22,5,-5,-22,-5,9,0,14,25,9,-5,4,-11,0,14,2,-11,4,14],
  [32,23,16,11,2,13,29,13,-2,9,-9,4,16,5,-9,-23,-9,4,14,0,-11,4,16,32,14,0,11,-4,-18,-4,9,23,9,-5,5,-9,2,18,4,-11,0,14,23],
  [-23,-18,-14,-11,-9,-4,9,-4,-18,-5,11,23,9,-5,5,-9,-23,-9,4,14,0,-14,-2,14,4,-11,-29,-11,4,-5,9,22,5,-9,4,-14,-2,11,0,-14,-4,11,0],
  [25,14,0,11,-4,9,23,36,18,4,-9,4,18,5,-9,4,18,29,11,-4,9,-5,-18,-4,11,0,-14,-2,14,29,14,0,-11,2,18,5,-9,4,14,23,9,-4,5],
  [14,0,-11,2,18,4,-11,-2,11,29,14,0,9,-5,4,18,5,-9,-23,-9,4,14,0,-14,-4,11,25,9,-18,-23,-5,5,11,9,14,11,4,-9,5,18,5,-9,4],
  [-9,5,9,-5,5,18,4,-9,4,14,25,11,-4,9,-11,0,11,-5,-18,-4,11,0,-14,-2,14,29,14,0,11,-5,-25,-11,0,5,0,0,5,11,0,11,22,5,-5],
  [-22,5,-5,9,23,11,-4,5,-11,4,14,0,-14,-29,-11,4,14,2,-11,-23,-9,5,18,4,-9,5,22,9,-5,-18,-5,9,-5,-25,5,-9,4,14,0,-5,11,0,14],
  [11,-4,11,0,-11,4,18,5,-9,-22,-5,9,0,14,4,-11,-25,-11,2,-9,5,18,4,-11,-2,-18,-32,-18,-4,9,-2,-18,-5,-23,9,-4,-14,2,-11,-23,14,5,18],
  [36,25,14,4,18,5,-5,9,23,11,-4,5,-11,4,14,0,-14,-29,-11,4,14,2,-11,-23,-9,5,18,4,-9,5,22,9,-5,-18,-5,9,23,11,-18,-9,5,0,0],
  [-29,-11,4,-9,-23,-5,9,-4,-18,-4,11,0,-11,4,18,4,-9,-22,-5,5,-5,-22,-36,-14,0,11,0,-14,-4,11,23,9,-5,4,-14,-29,-11,2,-9,5,-18,0,0],
  [18,5,-9,4,18,32,14,-4,5,-9,4,18,5,-9,-18,-4,11,23,9,-5,5,-11,0,14,29,11,-4,9,-9,4,22,36,14,0,11,-4,-18,-4,9,23,11,-2,9],
  [-23,-11,5,-5,9,-4,11,18,9,11,-4,9,-9,-23,-9,4,18,5,-5,9,23,9,-5,4,-14,-2,11,0,-14,-29,-11,4,14,0,-9,5,18,4,-9,-23,-5,9,0],
  [25,14,0,-11,2,18,5,-9,4,14,4,-9,-23,-9,5,-4,11,25,14,0,-14,-4,11,29,11,-2,9,22,5,-9,2,18,5,-9,4,14,0,-11,4,18,29,11,0],
  [-18,5,-11,4,14,-5,9,18,11,4,14,23,9,-5,5,-11,2,18,32,14,0,14,4,-11,2,14,0,-14,-2,14,29,14,0,9,-5,-22,-5,9,23,9,-4,9,22],
  [-18,-29,-11,2,14,0,-11,-25,-9,5,-5,-18,-4,11,0,-14,-29,-14,0,11,2,-14,-23,-5,9,0,-14,-2,11,0,-11,-25,-9,4,-9,-22,-32,-14,0,11,0,-11,-23],
  [-14,2,14,4,-9,-23,-32,-18,-2,9,-4,-18,-5,9,22,5,-5,-18,-32,-14,0,11,0,-14,-4,11,0,-9,-25,-11,4,-5,-18,-4,9,0,-14,-4,11,-5,-22,-29,-11],
  [9,22,5,-9,4,14,0,-11,4,18,29,11,-4,5,-9,2,14,4,-11,0,14,25,9,-5,5,18,4,-9,2,14,29,11,-4,9,-5,4,18,29,11,-2,9,22,5],
  [-9,4,14,0,-14,-25,-9,5,-5,-18,-4,11,0,-11,-25,-11,4,14,2,-9,-22,-5,9,-4,-14,-2,11,0,-14,-29,-11,4,14,0,-9,-23,-9,4,14,0,-11,-23,-9],
  [5,-5,9,23,9,-5,4,18,5,-9,4,14,-2,-18,-5,9,23,9,-4,11,0,-14,-2,14,29,11,-4,5,-11,2,18,4,-9,5,22,5,-9,4,-11,2,14,0,11],
  [-11,0,14,4,-11,-23,-9,5,18,4,-11,-2,11,0,-14,-32,-14,0,11,-4,-18,-4,9,-5,-22,-5,9,22,5,-9,4,-11,-23,-9,5,-4,-14,2,18,5,-5,-18,-5],
  [22,32,18,5,18,29,14,4,18,32,22,5,18,29,14,4,22,32,18,5,14,25,11,22,32,18,5,18,29,14,4,18,25,14,29,18,5,14,25,18,29,14,9],
  [-22,-29,-14,-4,-18,-29,-14,-23,-32,-18,-5,-18,-29,-14,-23,-9,-22,-32,-18,-5,-14,-25,-11,-22,-32,-18,-5,-22,-29,-14,-4,-18,-25,-11,-23,-32,-18,-5,-14,-25,-18,-9,-22],
  [-5,7,16,4,-9,2,11,-4,-14,0,13,4,-7,5,16,25,9,-4,5,-9,0,13,4,-11,2,13,23,11,2,-9,-2,13,22,7,-5,5,16,27,11,0,9,20,11],
  [4,-7,2,11,-2,-11,-2,7,18,4,-4,-14,-4,7,-4,-16,-7,4,13,0,-9,-20,-7,4,11,0,-9,-2,9,-4,-14,-5,5,-7,-18,-29,-13,0,9,0,-7,4,-5],
  [11,2,-7,2,11,4,-5,7,16,5,-2,7,-5,-16,-5,5,14,5,-4,4,11,2,-7,0,9,18,7,-2,7,-5,2,11,22,9,-4,5,-5,0,9,2,-5,4,11],
  [-7,5,-4,-14,-5,5,14,4,-7,2,9,0,-9,-2,7,-4,-13,-5,4,14,4,-5,4,-9,-20,-7,4,-4,-13,-4,5,-2,-11,-4,5,16,5,-5,4,-9,2,11,2],
  [9,20,7,-4,5,16,5,-7,2,11,20,7,-2,5,-7,2,13,4,-9,0,9,18,5,-5,4,13,2,-7,2,11,22,9,-4,7,-5,4,14,22,7,-2,7,16,4],
  [-7,-18,-5,5,-5,-16,-5,5,-4,-14,-25,-11,2,-7,-20,-7,4,-5,-18,-5,5,-4,-16,-27,-13,0,-9,-22,-9,4,-5,-18,-7,4,-9,-20,-32,-14,0,-7,-18,-5,4],
  [-4,9,22,7,-5,4,14,2,-9,0,14,4,-9,4,14,27,11,-4,7,-9,2,14,4,-9,2,13,25,14,2,-7,0,11,22,9,-4,5,14,29,11,-2,7,18,9],
  [5,-7,4,13,-2,-14,-4,7,18,5,-5,-16,-4,7,-5,-18,-7,4,11,0,-7,-18,-7,5,13,0,-11,-2,9,-4,-16,-5,4,-9,-20,-32,-14,0,9,0,-9,4,-7]
]
// runs that leave the band later (fall over, wrap from -pi to pi, recover) or decay slowly
const thetaRealEvents = [
  { run: 0, pts: [[80,138],[84,128],[90,105],[96,85],[102,66],[108,50],[114,36],[120,25],[126,12]] },
  { run: 3, pts: [[80,128],[85,105],[90,82],[95,60],[100,42],[106,26],[112,12]] },
  { run: 4, pts: [[80,-104],[85,-90],[92,-72],[98,-60],[103,-54],[110,-40],[118,-25],[126,-10]] },
  { run: 13, pts: [[80,-50],[84,-65],[88,-82],[92,-104],[96,-140],[100,-190],[103,-256],[105,-305],[105.3,302],[110,255],[114,210],[119,165],[124,130],[130,92],[136,60],[142,32],[148,12]] },
  { run: 15, pts: [[80,-42],[85,-58],[90,-75],[95,-95],[99,-117],[104,-150],[109,-195],[114,-256],[117,-306],[117.3,302],[123,240],[128,200],[133,155],[138,104],[144,62],[150,32],[156,12]] },
  { run: 1, pts: [[166,-20],[172,-32],[178,-55],[184,-95],[189,-150],[193,-215],[195.5,-262],[197,-300],[197.3,305],[201,250],[204,205],[209,130],[214,55],[218,25],[224,10]] },
  { run: 2, pts: [[170,-20],[176,-32],[182,-55],[188,-100],[192,-150],[196,-215],[199,-270],[201,-305],[201.3,309],[205,250],[208,205],[213,130],[218,55],[222,25],[228,8]] },
  { run: 6, pts: [[360,-22],[365,-32],[369,-50],[374,-104],[378,-170],[381,-230],[383,-295],[383.3,308],[388,275],[392,240],[397,210],[401,160],[405,117],[410,80],[416,47],[422,18]] },
  { run: 7, pts: [[384,-25],[388,-40],[393,-70],[398,-104],[402,-150],[407,-230],[410,-305],[410.3,299],[414,255],[420,180],[427,98],[434,41],[440,14]] },
  { run: 8, pts: [[410,-22],[414,-40],[418,-70],[423,-104],[428,-160],[434,-230],[437,-272],[439,-300],[439.3,316],[444,250],[449.5,161],[454,110],[459,60],[465,30],[471,12]] },
  { run: 9, pts: [[416,-22],[420,-42],[424,-70],[429,-104],[435,-165],[442,-230],[445,-265],[447.5,-292],[447.8,316],[451,255],[454,185],[458,130],[463,85],[469,41],[476,14]] },
  { run: 10, pts: [[462,-18],[466,-30],[470,-55],[476,-104],[481,-165],[486,-230],[488,-290],[488.3,311],[493,230],[500,136]] },
  { run: 11, pts: [[484,-15],[488,-28],[492,-40],[496,-52],[500,-68]] }
]

// join head key points, sampled tail and any event into one run per trajectory
const build = (heads, tails, events = []) => heads.map((h, i) => {
  const ev = events.filter(e => e.run === i)
  const covered = s => ev.some(e => s >= e.pts[0][0] && s <= e.pts[e.pts.length - 1][0])
  let pts = h.slice()
  ;(tails[i] || []).forEach((v, k) => {
    const s = tailStart + k * tailStep
    if (s <= 500 && !covered(s)) pts.push([s, v])
  })
  ev.forEach(e => { pts = pts.concat(e.pts) })
  return pts.sort((a, b) => a[0] - b[0])
})

const W = 447, H = 337
const panels = [
  { runs: build(rhoModelHeads, rhoModelTails), left: 55, top: 7.5, yDomain: [-2.4, 2.4], yTicks: rhoTicks, stroke: 1.5 },
  { runs: build(thetaModelHeads, thetaModelTails), left: 648, top: 7.5, yDomain: [-3.15, 3.25], yTicks: thetaTicks, stroke: 1.3 },
  { runs: build(rhoRealHeads, rhoRealTails), left: 55, top: 511, yDomain: [-2.4, 2.4], yTicks: rhoTicks, stroke: 1.5 },
  { runs: build(thetaRealHeads, thetaRealTails, thetaRealEvents), left: 648, top: 511, yDomain: [-3.15, 3.25], yTicks: thetaTicks, stroke: 1.3 }
]

const svg = d3.select('#fig')
const sans = '"Liberation Sans", Arial, Helvetica, sans-serif'
const serif = '"Liberation Serif", "Times New Roman", serif'
const capFont = '"DejaVu Serif", serif'
const ink = '#262626'

const styleAxis = g => {
  g.attr('font-family', sans).attr('font-size', 19)
  g.select('.domain').attr('stroke', ink).attr('stroke-width', 1)
  g.selectAll('.tick line').attr('stroke', ink)
  g.selectAll('.tick text').attr('fill', ink)
}

panels.forEach((p, idx) => {
  const x = d3.scaleLinear().domain([0, 500]).range([p.left, p.left + W])
  const y = d3.scaleLinear().domain(p.yDomain).range([p.top + H, p.top])
  const g = svg.append('g')

  g.append('clipPath').attr('id', 'clip' + idx).append('rect')
    .attr('x', p.left).attr('y', p.top).attr('width', W).attr('height', H)

  // tolerance band
  g.append('rect')
    .attr('x', x(0)).attr('width', x(500) - x(0))
    .attr('y', y(bandHalf)).attr('height', y(-bandHalf) - y(bandHalf))
    .attr('fill', '#cae9ca')

  const line = d3.line().x(d => x(d[0])).y(d => y(d[1] / 100)).curve(d3.curveMonotoneX)
  g.append('g').attr('clip-path', `url(#clip${idx})`)
    .selectAll('path').data(p.runs).join('path')
    .attr('d', line)
    .attr('fill', 'none').attr('stroke', '#000').attr('stroke-width', p.stroke)

  g.append('g').attr('transform', `translate(0,${p.top + H})`)
    .call(d3.axisBottom(x).tickValues(xTicks).tickSize(-5).tickSizeOuter(0).tickPadding(14))
    .call(styleAxis)
  g.append('g').attr('transform', `translate(${p.left},0)`)
    .call(d3.axisLeft(y).tickValues(p.yTicks).tickSize(-5).tickSizeOuter(0).tickPadding(8).tickFormat(d => String(d)))
    .call(styleAxis)

  const cx = p.left + W / 2, cy = p.top + H / 2
  g.append('text')
    .attr('transform', `translate(${p.left - 40},${cy}) rotate(-90)`)
    .attr('text-anchor', 'middle').attr('dy', '0.3em')
    .attr('font-family', serif).attr('font-style', 'italic').attr('font-size', 22).attr('fill', ink)
    .text(yLabels[idx])
  g.append('text')
    .attr('x', cx).attr('y', p.top + H + 57.5)
    .attr('text-anchor', 'middle')
    .attr('font-family', sans).attr('font-size', 20).attr('fill', ink)
    .text('steps')
  g.append('text')
    .attr('x', cx).attr('y', p.top + H + 96.5)
    .attr('text-anchor', 'middle')
    .attr('font-family', capFont).attr('font-size', 21.5).attr('fill', '#000')
    .text(captions[idx])
})
</script>
</body>
